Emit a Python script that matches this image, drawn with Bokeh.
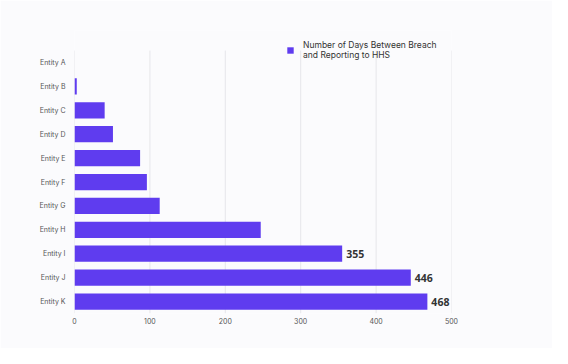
from bokeh.plotting import figure
from bokeh.models import ColumnDataSource, Legend, LegendItem, FixedTicker, Range1d
from bokeh.core.properties import value
from bokeh.embed import file_html
from bokeh.resources import INLINE

entities = ["Entity A", "Entity B", "Entity C", "Entity D", "Entity E", "Entity F",
            "Entity G", "Entity H", "Entity I", "Entity J", "Entity K"]
days = [0, 3, 40, 51, 87, 96, 113, 247, 355, 446, 468]
value_labels = ["", "", "", "", "", "", "", "", "355", "446", "468"]
x_ticks = [0, 100, 200, 300, 400, 500]
series_name = "Number of Days Between Breach\nand Reporting to HHS"

BG = "#fbfbfd"
BAR = "#5f3cef"
GRID = "#e6e6ea"

n = len(entities)
pos = list(range(n))
src = ColumnDataSource(dict(pos=pos, entity=entities, days=days, label=value_labels))

p = figure(width=552, height=348, output_backend="svg", toolbar_location=None,
           y_range=Range1d(n - 0.5, -1.34), x_range=Range1d(0, 500),
           min_border_left=74, min_border_right=101, min_border_top=30, min_border_bottom=35)
p.background_fill_color = BG
p.border_fill_color = BG
p.outline_line_color = None
p.xgrid.grid_line_color = None
p.ygrid.grid_line_color = None

# vertical gridlines spanning the category bands only
p.segment(x0=x_ticks, x1=x_ticks, y0=[-0.5] * len(x_ticks), y1=[n - 0.5] * len(x_ticks),
          line_color=GRID, line_width=1)

r = p.hbar(y="pos", right="days", left=0, height=0.68, source=src,
           fill_color=BAR, line_color=None)

p.text(x="days", y="pos", text="label", source=src, x_offset=4,
       text_font=value("Open Sans"), text_font_style="bold", text_font_size="10.5px",
       text_color="#333333", text_baseline="middle", text_align="left")

p.xaxis.ticker = FixedTicker(ticks=x_ticks)
p.yaxis.ticker = FixedTicker(ticks=pos)
p.yaxis.major_label_overrides = {i: e for i, e in zip(pos, entities)}
for ax in (p.xaxis[0], p.yaxis[0]):
    ax.axis_line_color = None
    ax.major_tick_line_color = None
    ax.minor_tick_line_color = None
    ax.major_tick_out = 0
    ax.major_tick_in = 0
    ax.minor_tick_out = 0
    ax.minor_tick_in = 0
    ax.major_label_text_font = "Inter"
    ax.major_label_text_font_size = "7px"
    ax.major_label_text_color = "#555555"
p.yaxis.major_label_standoff = 9
p.xaxis.major_label_standoff = 4

legend = Legend(items=[LegendItem(label=series_name, renderers=[r])],
                location=(212, 253), orientation="vertical",
                background_fill_alpha=0, border_line_color=None,
                label_text_font="Inter", label_text_font_size="8.5px",
                label_text_line_height=1.5,
                label_text_color="#333333", glyph_width=8, glyph_height=8,
                padding=0, margin=0, label_standoff=9, label_height=10)
p.add_layout(legend, "center")

open("out.html", "w").write(file_html(p, INLINE))
